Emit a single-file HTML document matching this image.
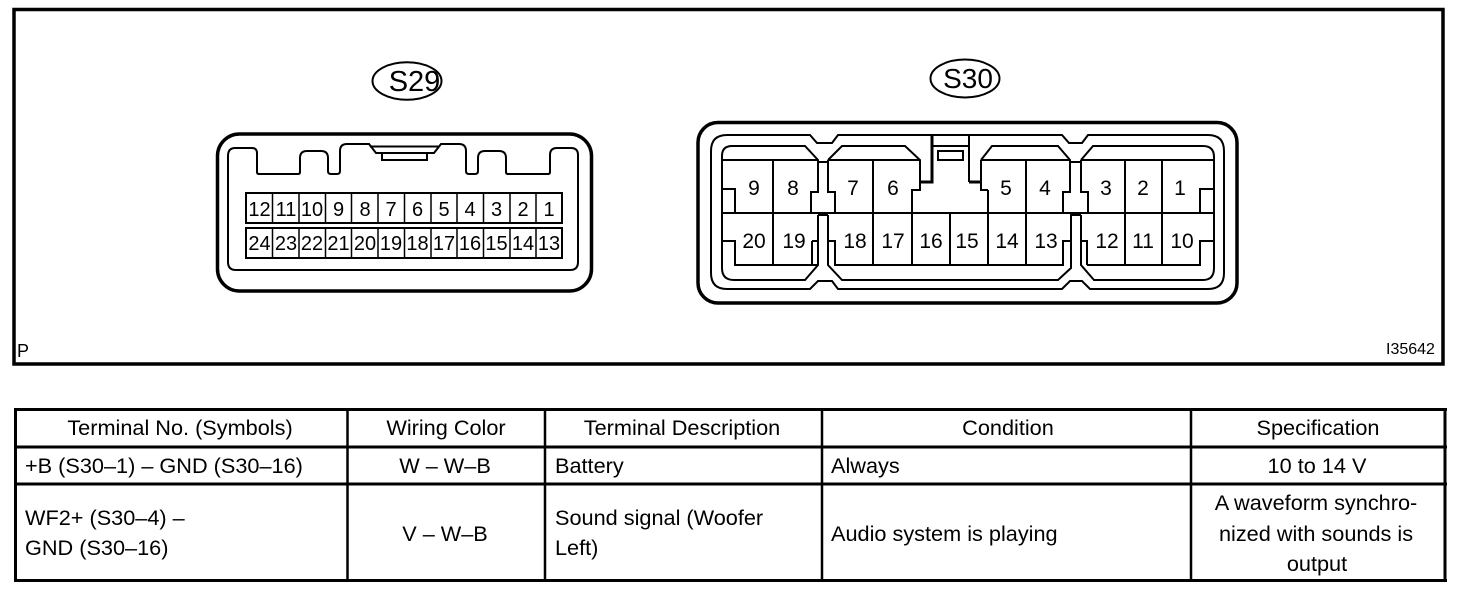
<!DOCTYPE html>
<html><head><meta charset="utf-8"><style>
html,body{margin:0;padding:0;background:#fff}
svg{display:block}
text{font-family:"Liberation Sans",sans-serif;fill:#000}
.n{font-size:20px;text-anchor:middle}
.m{font-size:21px;text-anchor:middle}
.t{font-size:21.7px}
.c{font-size:21.7px;text-anchor:middle}
</style></head><body>
<svg width="1472" height="596" viewBox="0 0 1472 596" xmlns="http://www.w3.org/2000/svg">
<rect width="1472" height="596" fill="#fff"/>
<g fill="none" stroke="#000">
<path d="M14 9.5H1443V364H14Z" stroke-width="3.5"/>
<ellipse cx="407" cy="81" rx="34.5" ry="18.7" stroke-width="2"/>
<ellipse cx="965" cy="78.5" rx="34.5" ry="19" stroke-width="2"/>
<rect x="217.5" y="134" width="374" height="157" rx="22" stroke-width="3.5"/>
<path stroke-width="2" d="M228 156Q228 148 235 148H252Q257 148 257 153V172Q257 174 259 174H298Q300 174 300 172V158Q300 151 307 151H321Q328 151 328 158V171Q328 174 331 174H337Q340 174 340 171V151Q340 144 347 144H369L376 153H434L441 144H459Q466 144 466 151V171Q466 174 469 174H475Q478 174 478 171V158Q478 151 485 151H499Q506 151 506 158V172Q506 174 508 174H548Q550 174 550 172V155Q550 148 557 148H571Q578 148 578 155V262Q578 270 570 270H236Q228 270 228 262Z"/>
<path stroke-width="2" d="M370 146.500H439M382 153V160H427V153"/>
<path stroke-width="2" d="M246 193H562V223H246ZM246 228H562V258H246Z"/>
<path stroke-width="1.500" d="M272.500 193V223M272.500 228V258M299 193V223M299 228V258M325.500 193V223M325.500 228V258M351.500 193V223M351.500 228V258M378 193V223M378 228V258M404.500 193V223M404.500 228V258M431 193V223M431 228V258M457 193V223M457 228V258M483.500 193V223M483.500 228V258M510 193V223M510 228V258M536 193V223M536 228V258"/>

<rect x="698" y="122.500" width="539" height="180.500" rx="20" stroke-width="3.500"/>
<path stroke-width="2" d="M727 135H810L817 143H832L838 135H1062L1069 143H1082L1088 135H1208Q1224 135 1224 151V273Q1224 289 1208 289H1090L1082 281H1070L1062 289H838L832 281H818L810 289H727Q711 289 711 273V151Q711 135 727 135Z"/>
<path stroke-width="2" d="M722 156Q722 146 732 146H805L818 160V192H811V213M818 215V265L805 280H734Q722 280 722 268V156M722 160H818M722 213H811M722 189H735V213M722 241H735V265H818M812 241H818M812 241V265M773 160V265"/>
<path stroke-width="2" d="M818 162H828M811 213H835M818 215H828M1063 213H1088M1070 162H1081M1070 215H1081"/>
<path stroke-width="2" d="M828 160L842 146H905L920 160V190H912V265M828 160V192H835V213M828 215V265L842 280H1058L1071 268V215M828 160H920M828 241H835V265H1063V241H1071M835 213H1063M873 160V265M950 213V265M988 190V265M1026 160V265"/>
<path stroke-width="3" d="M920 182H932V135M981 182H969"/>
<path stroke-width="2" d="M932 146H969M969 135V182M938 151H963V160H938Z"/>
<path stroke-width="2" d="M981 160L992 146H1058L1070 160V192H1063V213M981 160H1070M981 160V190H988"/>
<path stroke-width="2" d="M1081 160L1093 146H1203Q1214 146 1214 157V268Q1214 280 1203 280H1094L1081 265V215M1081 160H1214M1081 160V192H1088V213M1088 213H1214M1087 265H1200V241H1214M1081 241H1087V265M1214 189H1200V213M1125 160V265M1162 160V265"/>

<path stroke-width="3" d="M15.500 409.500H1447M15.500 408V581M14 580.500H1447M1445 408V582M14 447H1447M14 484H1447"/>
<path stroke-width="2.500" d="M347.500 409V580M545 409V580M822 409V580M1191 409V580"/>
</g>

<text x="414.500" y="91" font-size="29" text-anchor="middle">S29</text>
<text x="968" y="88" font-size="28" text-anchor="middle">S30</text>

<text class="n" x="259.500" y="216">12</text><text class="n" x="286" y="216">11</text><text class="n" x="312" y="216">10</text><text class="n" x="338.500" y="216">9</text><text class="n" x="365" y="216">8</text><text class="n" x="391" y="216">7</text><text class="n" x="417.500" y="216">6</text><text class="n" x="444" y="216">5</text><text class="n" x="470" y="216">4</text><text class="n" x="496.500" y="216">3</text><text class="n" x="523" y="216">2</text><text class="n" x="549" y="216">1</text>
<text class="n" x="259.500" y="250">24</text><text class="n" x="286" y="250">23</text><text class="n" x="312" y="250">22</text><text class="n" x="338.500" y="250">21</text><text class="n" x="365" y="250">20</text><text class="n" x="391" y="250">19</text><text class="n" x="417.500" y="250">18</text><text class="n" x="444" y="250">17</text><text class="n" x="470" y="250">16</text><text class="n" x="496.500" y="250">15</text><text class="n" x="523" y="250">14</text><text class="n" x="549" y="250">13</text>

<text class="m" x="754" y="195">9</text><text class="m" x="793" y="195">8</text><text class="m" x="853" y="195">7</text><text class="m" x="893" y="195">6</text><text class="m" x="1006" y="195">5</text><text class="m" x="1045" y="195">4</text><text class="m" x="1106" y="195">3</text><text class="m" x="1143" y="195">2</text><text class="m" x="1180" y="195">1</text>
<text class="m" x="754" y="248">20</text><text class="m" x="794" y="248">19</text><text class="m" x="855" y="248">18</text><text class="m" x="893" y="248">17</text><text class="m" x="931" y="248">16</text><text class="m" x="967" y="248">15</text><text class="m" x="1007" y="248">14</text><text class="m" x="1046" y="248">13</text><text class="m" x="1107" y="248">12</text><text class="m" x="1143" y="248">11</text><text class="m" x="1182" y="248">10</text>

<text x="17" y="357" font-size="18">P</text>
<text x="1386" y="354" font-size="16">I35642</text>

<text class="c" x="180" y="435">Terminal No. (Symbols)</text>
<text class="c" x="446" y="435">Wiring Color</text>
<text class="c" x="682" y="435">Terminal Description</text>
<text class="c" x="1008" y="435">Condition</text>
<text class="c" x="1318" y="435">Specification</text>

<text class="t" x="25" y="473">+B (S30–1) – GND (S30–16)</text>
<text class="c" x="445" y="473">W – W–B</text>
<text class="t" x="555" y="473">Battery</text>
<text class="t" x="831" y="473">Always</text>
<text class="c" x="1317" y="473">10 to 14 V</text>

<text class="t" x="25" y="525">WF2+ (S30–4) –</text>
<text class="t" x="25" y="555">GND (S30–16)</text>
<text class="c" x="445" y="541">V – W–B</text>
<text class="t" x="555" y="525">Sound signal (Woofer</text>
<text class="t" x="555" y="555">Left)</text>
<text class="t" x="831" y="541">Audio system is playing</text>
<text class="c" x="1316" y="510">A waveform synchro-</text>
<text class="c" x="1316" y="541">nized with sounds is</text>
<text class="c" x="1317" y="571">output</text>
</svg>
</body></html>
